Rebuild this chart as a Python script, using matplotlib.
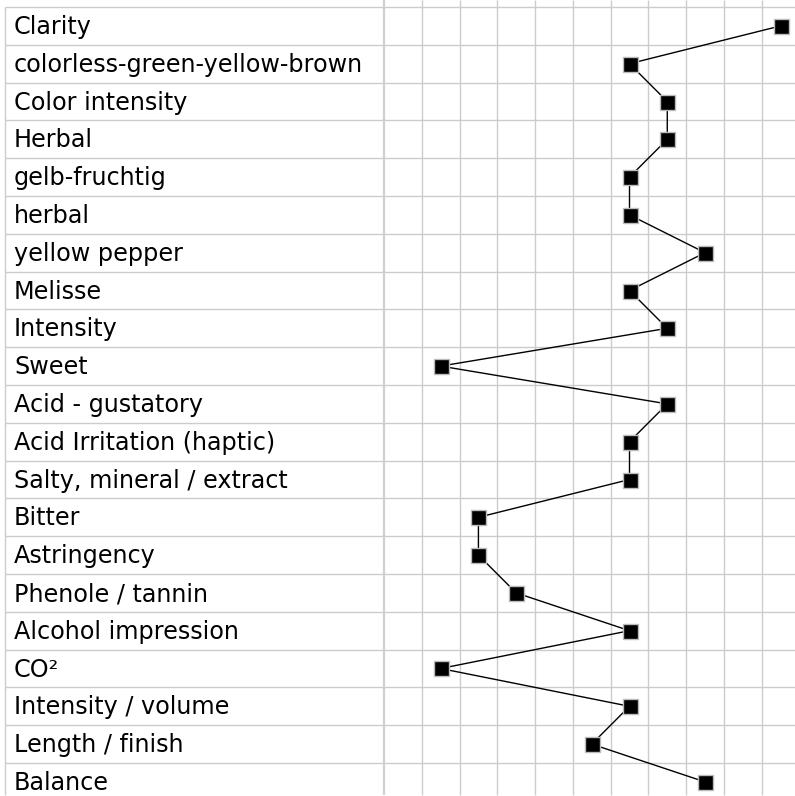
import matplotlib
matplotlib.use("Agg")
import matplotlib.pyplot as plt

categories = ["Clarity", "colorless-green-yellow-brown", "Color intensity", "Herbal",
              "gelb-fruchtig", "herbal", "yellow pepper", "Melisse", "Intensity", "Sweet",
              "Acid - gustatory", "Acid Irritation (haptic)", "Salty, mineral / extract",
              "Bitter", "Astringency", "Phenole / tannin", "Alcohol impression", "CO²",
              "Intensity / volume", "Length / finish", "Balance"]
values = [10, 6, 7, 7, 6, 6, 8, 6, 7, 1, 7, 6, 6, 2, 2, 3, 6, 1, 6, 5, 8]
scale_ticks = list(range(0, 11))

W, H, DPI = 795, 796, 100
fig = plt.figure(figsize=(W / DPI, H / DPI), dpi=DPI)
ax = fig.add_axes([0, 0, 1, 1])
ax.set_axis_off()

cell = 37.77       # px per scale unit
row_h = 37.8       # px per row
x0_px = 384.0      # px of first grid line (value -0.5)
y0_px = 7.0        # px of first row boundary

def xpx(p):
    return (p - x0_px) / cell - 0.5

def ypx(p):
    return (p - y0_px) / row_h - 0.5

ax.set_xlim(xpx(0), xpx(W))
ax.set_ylim(ypx(H), ypx(0))

grid_c = "#cccccc"
n = len(categories)
left = xpx(5)
top = ypx(0)
bottom = ypx(H - 1)

# horizontal row lines
for i in range(n + 1):
    ax.plot([left, xpx(W)], [i - 0.5, i - 0.5], color=grid_c, lw=1.0, zorder=1,
            solid_capstyle="butt")
# vertical grid lines of the scale
for k in scale_ticks:
    ax.plot([k - 0.5, k - 0.5], [top, bottom], color="#d0d0d0" if k == 0 else grid_c,
            lw=1.6 if k == 0 else 1.0, zorder=1, solid_capstyle="butt")
ax.plot([scale_ticks[-1] + 0.5] * 2, [top, bottom], color=grid_c, lw=1.0, zorder=1)
# left border of label column
ax.plot([left, left], [-0.5, bottom], color=grid_c, lw=1.0, zorder=1,
        solid_capstyle="butt")

# labels
for i, c in enumerate(categories):
    ax.text(xpx(14), i + 0.03, c, fontsize=17.2, va="center", ha="left",
            family="DejaVu Sans", color="black")

# profile line
ys = list(range(n))
ax.plot(values, ys, color="black", lw=1.0, zorder=2)
ax.plot(values, ys, ls="none", marker="s", markersize=10.8, markerfacecolor="black",
        markeredgecolor="#bbbbbb", markeredgewidth=1.0, zorder=3)

fig.savefig("out.png", dpi=DPI)
